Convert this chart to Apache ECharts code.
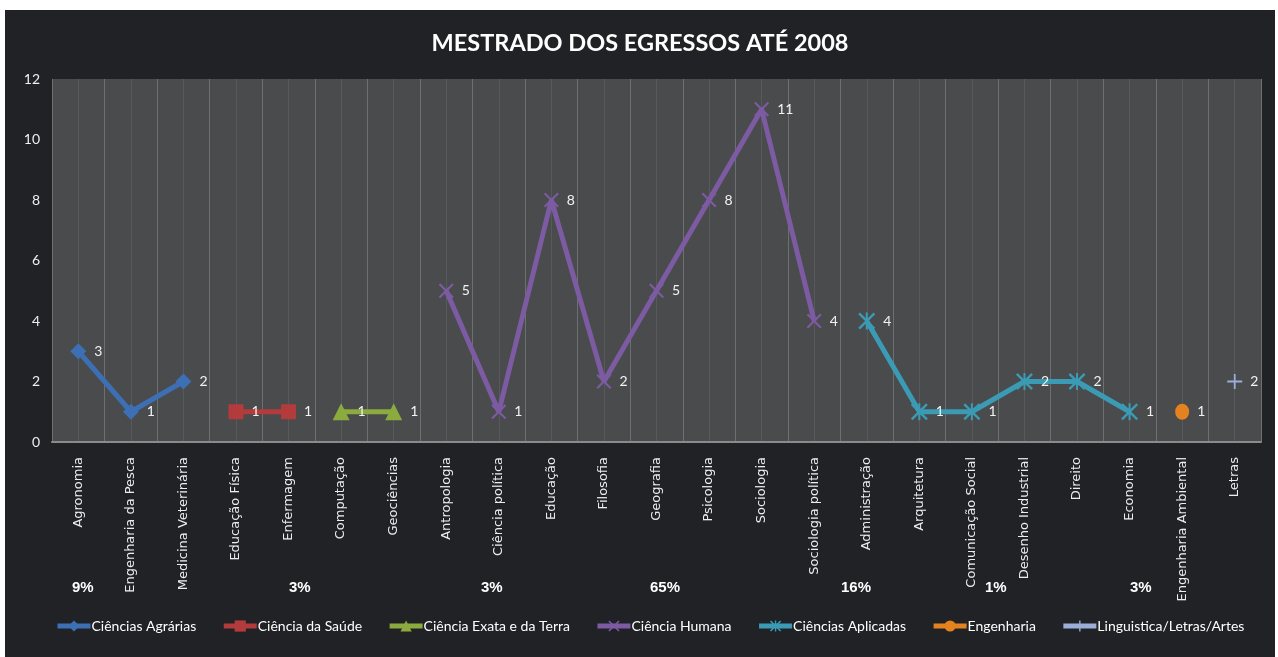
<!DOCTYPE html>
<html>
<head>
<meta charset="utf-8">
<script src="https://cdn.jsdelivr.net/npm/echarts@6/dist/echarts.min.js"></script>
<style>
  html, body { margin: 0; padding: 0; background: #fff; }
  #myChart { position: absolute; left: 5px; top: 10px; width: 1270px; height: 647px; }
</style>
</head>
<body>
<div id="myChart"></div>
<script>
// categorias (eixo x)
var categories = ['Agronomia', 'Engenharia da Pesca', 'Medicina Veterinária', 'Educação Física', 'Enfermagem',
  'Computação', 'Geociências', 'Antropologia', 'Ciência política', 'Educação', 'Filosofia', 'Geografia',
  'Psicologia', 'Sociologia', 'Sociologia política', 'Administração', 'Arquitetura', 'Comunicação Social',
  'Desenho Industrial', 'Direito', 'Economia', 'Engenharia Ambiental', 'Letras'];
var agrarias   = [3, 1, 2];
var saude      = [null, null, null, 1, 1];
var exata      = [null, null, null, null, null, 1, 1];
var humana     = [null, null, null, null, null, null, null, 5, 1, 8, 2, 5, 8, 11, 4];
var aplicadas  = [null, null, null, null, null, null, null, null, null, null, null, null, null, null, null, 4, 1, 1, 2, 2, 1];
var engenharia = [null, null, null, null, null, null, null, null, null, null, null, null, null, null, null, null, null, null, null, null, null, 1];
var letras     = [null, null, null, null, null, null, null, null, null, null, null, null, null, null, null, null, null, null, null, null, null, null, 2];
var yTicks = [0, 2, 4, 6, 8, 10, 12];
var percentLabels = ['9%', '3%', '3%', '65%', '16%', '1%', '3%'];

var fontLabel = 'Lato';
var symX = 'path://M1,0L5,4L9,0L10,1L6,5L10,9L9,10L5,6L1,10L0,9L4,5L0,1Z';
var symStar = 'path://M1,0L5,4L9,0L10,1L6,5L10,9L9,10L5,6L1,10L0,9L4,5L0,1Z M4.4,0L5.6,0L5.6,10L4.4,10Z';
var symPlus = 'path://M4.4,0H5.6V4.4H10V5.6H5.6V10H4.4V5.6H0V4.4H4.4Z';

function mkSeries(name, data, color, symbol, size) {
  return {
    name: name,
    type: 'line',
    data: data,
    symbol: symbol,
    symbolSize: size,
    connectNulls: false,
    lineStyle: { width: 5, color: color },
    itemStyle: { color: color },
    label: {
      show: true,
      position: 'right',
      distance: 8,
      color: '#f2f2f2',
      fontFamily: fontLabel,
      fontSize: 14
    },
    z: 3
  };
}

var percentX = [79, 296, 488, 657, 848, 992, 1137];

var myChart = echarts.init(document.getElementById('myChart'));
myChart.setOption({
  backgroundColor: '#202226',
  animation: false,
  title: {
    text: 'MESTRADO DOS EGRESSOS ATÉ 2008',
    left: 'center',
    top: 16,
    textStyle: { color: '#fff', fontSize: 23.5, fontWeight: 'bold', fontFamily: fontLabel }
  },
  legend: {
    bottom: 19,
    left: 45,
    itemWidth: 33,
    itemHeight: 14,
    itemGap: 25,
    lineStyle: { width: 5 },
    textStyle: { color: '#fff', fontFamily: fontLabel, fontSize: 14, padding: [0, 0, 0, -4] }
  },
  grid: {
    left: 47,
    right: 14,
    top: 69,
    bottom: 215,
    show: true,
    backgroundColor: '#4a4b4d',
    borderWidth: 0
  },
  xAxis: [{
    type: 'category',
    data: categories,
    axisTick: { show: false },
    axisLine: { show: true, lineStyle: { color: '#8a8b8d', width: 2 } },
    axisLabel: {
      interval: 0,
      rotate: 90,
      margin: 15,
      color: '#ececec',
      fontFamily: 'DejaVu Sans',
      fontSize: 13
    },
    splitLine: { show: false }
  }, {
    type: 'value',
    min: 0,
    max: 23,
    interval: 1,
    position: 'bottom',
    axisLine: { show: false },
    axisTick: { show: false },
    axisLabel: { show: false },
    splitLine: { show: true, lineStyle: { color: '#6e6f72', width: 1 } },
    minorTick: { show: false, splitNumber: 2 },
    minorSplitLine: { show: true, lineStyle: { color: '#58595c', width: 1 } }
  }],
  yAxis: {
    type: 'value',
    min: yTicks[0],
    max: yTicks[yTicks.length - 1],
    interval: 2,
    axisLine: { show: false },
    axisTick: { show: false },
    splitLine: { show: false },
    axisLabel: { color: '#eeeeee', fontFamily: fontLabel, fontSize: 14, margin: 12 }
  },
  graphic: percentLabels.map(function (t, i) {
    return {
      type: 'text',
      left: percentX[i] - 12,
      top: 570,
      style: { text: t, fill: '#fff', font: 'bold 15px "Liberation Sans"' }
    };
  }),
  series: [
    mkSeries('Ciências Agrárias', agrarias, '#3d6fb5', 'diamond', 16),
    mkSeries('Ciência da Saúde', saude, '#b43b3c', 'rect', 15),
    mkSeries('Ciência Exata e da Terra', exata, '#8bab3f', 'triangle', 17),
    mkSeries('Ciência Humana', humana, '#7c5ba3', symX, 15),
    mkSeries('Ciências Aplicadas', aplicadas, '#3b9bb4', symStar, 17),
    mkSeries('Engenharia', engenharia, '#e3821f', 'circle', [14, 16]),
    mkSeries('Linguistica/Letras/Artes', letras, '#9aaed8', symPlus, 15)
  ]
});
window.onresize = myChart.resize;
</script>
</body>
</html>
